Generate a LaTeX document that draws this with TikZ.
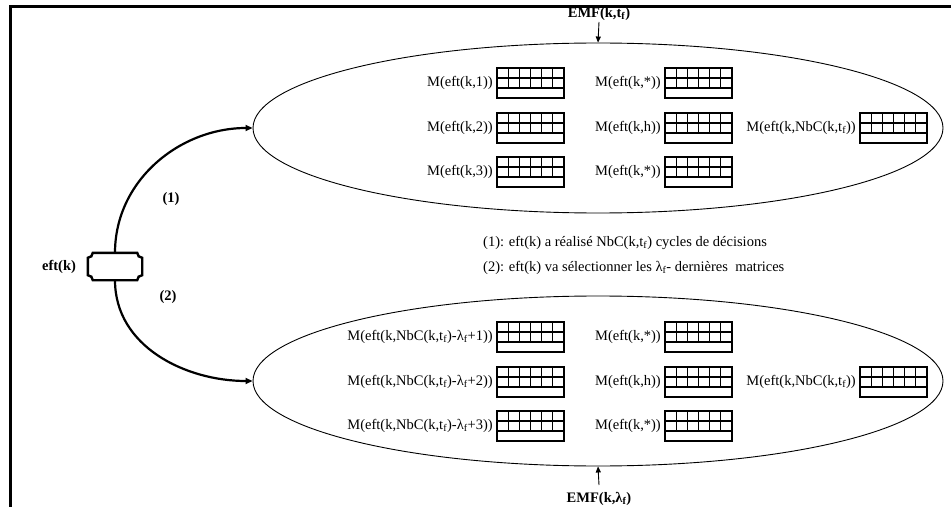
\documentclass[tikz,border=0pt]{standalone}
\usepackage{fontspec}
\setmainfont{Liberation Serif}
\usepackage{tikz}
\usetikzlibrary{arrows.meta,positioning,shapes.geometric}

\tikzset{
  etiq/.style={font=\fontsize{14.5}{17}\selectfont,inner sep=0pt},
  etiqgras/.style={font=\fontsize{14.5}{17}\selectfont\bfseries,inner sep=0pt},
  cellule/.style={line width=1.1pt},
  ensemble/.style={ellipse,draw,line width=0.9pt,minimum width=690pt,minimum height=170pt,inner sep=0pt},
  lien/.style={line width=2.2pt,-{Triangle[length=7pt,width=6pt]}},
  fleche/.style={line width=0.9pt,-{Triangle[length=6pt,width=5pt]}}
}

% one labelled matrix: name, left x, centre y, label
\newcommand{\matcase}[4]{%
  \node[etiq,anchor=east] (#1) at (#2-4,#3) {#4};
  \begin{scope}[shift={(#2,#3)}]
    \draw[cellule] (0,-15) rectangle (67,15);
    \draw[cellule] (0,-5) -- (67,-5) (0,5) -- (67,5);
    \foreach \c in {1,...,5} \draw[cellule] (\c*11.167,-5) -- (\c*11.167,15);
  \end{scope}}

\begin{document}
\begin{tikzpicture}[x=1pt,y=1pt]
   \useasboundingbox (0,0) rectangle (951,507);
   \draw[line width=3pt] (951,500) -- (10,500) -- (10,0);
   % the two sets of matrices
   \node[ensemble] (haut) at (598,379) {};
   \node[ensemble] (bas) at (598,126) {};
   \node[etiqgras] (emfh) at (599,493) {EMF(k,t\textsubscript{f})};
   \draw[fleche] (599,485) -- (haut.north);
   \node[etiqgras] (emfb) at (599,8) {EMF(k,λ\textsubscript{f})};
   \draw[fleche] (599,22) -- (bas.south);
   % the decision maker, a box with hollowed corners
   \node[minimum width=54pt,minimum height=27pt,inner sep=0pt] (eft) at (115,240.5) {};
   \draw[line width=2.4pt,line join=miter]
     ([xshift=5pt]eft.north west) -- ([xshift=-5pt]eft.north east)
       arc[start angle=180,end angle=270,radius=5pt]
     -- ([yshift=5pt]eft.south east)
       arc[start angle=90,end angle=180,radius=5pt]
     -- ([xshift=5pt]eft.south west)
       arc[start angle=0,end angle=90,radius=5pt]
     -- ([yshift=-5pt]eft.north west)
       arc[start angle=-90,end angle=0,radius=5pt] -- cycle;
   \node[etiqgras] (nomeft) at (59,240) {eft(k)};
   \draw[lien] (eft.north) to[out=90,in=180] (haut.west);
   \draw[lien] (eft.south) to[out=-90,in=180] (bas.west);
   \node[etiqgras] (un) at (171,308) {(1)};
   \node[etiqgras] (deux) at (168,210) {(2)};
   % legend
   \node[etiq,anchor=west] (leg1) at (483,264) {(1): eft(k) a réalisé NbC(k,t\textsubscript{f}) cycles de décisions};
   \node[etiq,anchor=west] (leg2) at (483,239) {(2): eft(k) va sélectionner les λ\textsubscript{f}- dernières~ matrices};
   % upper set
   \matcase{h11}{497}{424}{M(eft(k,1))}
   \matcase{h12}{665}{424}{M(eft(k,*))}
   \matcase{h21}{497}{379}{M(eft(k,2))}
   \matcase{h22}{665}{379}{M(eft(k,h))}
   \matcase{h23}{860}{379}{M(eft(k,NbC(k,t\textsubscript{f}))}
   \matcase{h31}{497}{335}{M(eft(k,3))}
   \matcase{h32}{665}{335}{M(eft(k,*))}
   % lower set
   \matcase{b11}{497}{170}{M(eft(k,NbC(k,t\textsubscript{f})-λ\textsubscript{f}+1))}
   \matcase{b12}{665}{170}{M(eft(k,*))}
   \matcase{b21}{497}{125}{M(eft(k,NbC(k,t\textsubscript{f})-λ\textsubscript{f}+2))}
   \matcase{b22}{665}{125}{M(eft(k,h))}
   \matcase{b23}{860}{125}{M(eft(k,NbC(k,t\textsubscript{f}))}
   \matcase{b31}{497}{81}{M(eft(k,NbC(k,t\textsubscript{f})-λ\textsubscript{f}+3))}
   \matcase{b32}{665}{81}{M(eft(k,*))}
\end{tikzpicture}
\end{document}
